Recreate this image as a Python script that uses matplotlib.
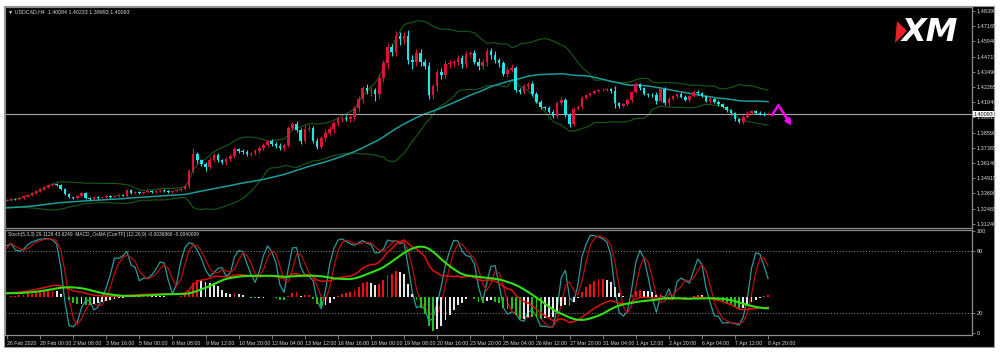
import numpy as np
import pandas as pd
import matplotlib
matplotlib.use("Agg")
import matplotlib.pyplot as plt
from matplotlib.patches import Rectangle, Polygon

# ---------------- data ----------------
# hidden history before the first visible bar (needed for indicator warm-up), in pips (1e-4)
pre_close = [13220, 13226, 13214, 13218, 13230, 13224, 13216, 13212, 13207, 13215,
             13222, 13228, 13234, 13230, 13225, 13219, 13227, 13236, 13241, 13233,
             13238, 13246, 13242, 13235, 13229, 13237, 13248, 13256, 13252, 13244,
             13250, 13261, 13269, 13265, 13274, 13281, 13276, 13270, 13278, 13287,
             13283, 13291, 13298, 13294, 13286, 13280, 13289, 13297, 13292, 13300]

first_open = 13310
close_pips = [13316, 13324, 13321, 13332, 13348, 13356, 13372, 13388, 13404, 13421,
              13437, 13445, 13437, 13404, 13364, 13340, 13332, 13348, 13372, 13332,
              13324, 13340, 13332, 13340, 13348, 13340, 13348, 13356, 13352, 13396,
              13372, 13380, 13372, 13380, 13388, 13380, 13388, 13396, 13388, 13380,
              13388, 13396, 13404, 13429, 13549, 13686, 13638, 13606, 13582, 13638,
              13678, 13638, 13622, 13646, 13670, 13727, 13711, 13703, 13686, 13694,
              13711, 13735, 13759, 13791, 13767, 13751, 13735, 13759, 13896, 13928,
              13880, 13791, 13888, 13896, 13791, 13743, 13815, 13856, 13888, 13936,
              13968, 13977, 13968, 13985, 14057, 14130, 14218, 14194, 14202, 14170,
              14299, 14420, 14549, 14509, 14637, 14613, 14637, 14444, 14428, 14500,
              14428, 14396, 14162, 14234, 14347, 14323, 14412, 14420, 14428, 14460,
              14412, 14492, 14500, 14428, 14396, 14428, 14517, 14484, 14444, 14420,
              14331, 14363, 14380, 14202, 14186, 14234, 14251, 14170, 14106, 14065,
              14057, 14025, 13993, 14097, 14122, 14001, 13928, 14049, 14065, 14138,
              14162, 14178, 14194, 14202, 14206, 14210, 14194, 14097, 14073, 14089,
              14122, 14186, 14251, 14218, 14170, 14162, 14158, 14114, 14210, 14097,
              14130, 14154, 14170, 14146, 14122, 14154, 14186, 14178, 14154, 14114,
              14130, 14106, 14089, 14065, 14041, 14017, 13968, 13944, 13985, 14017,
              14033, 14017, 14009, 14008.4, 14009.3]

wick_up = [5, 6, 4, 8, 6, 5, 7, 6, 5, 8,
           6, 9, 7, 5, 6, 8, 4, 6, 7, 5,
           6, 8, 5, 4, 6, 5, 7, 5, 6, 12,
           8, 5, 6, 4, 7, 5, 6, 8, 5, 6,
           4, 7, 6, 8, 20, 50, 15, 12, 18, 25,
           20, 15, 12, 18, 14, 16, 10, 12, 15, 12,
           14, 16, 18, 12, 20, 15, 25, 18, 20, 18,
           25, 20, 30, 22, 18, 25, 20, 30, 25, 20,
           15, 18, 22, 15, 20, 25, 18, 30, 25, 20,
           35, 28, 30, 25, 40, 35, 30, 45, 40, 35,
           30, 25, 30, 20, 25, 30, 35, 25, 20, 28,
           25, 22, 20, 25, 30, 28, 22, 25, 30, 20,
           20, 25, 30, 15, 18, 20, 15, 20, 18, 15,
           12, 15, 14, 18, 20, 15, 12, 15, 14, 12,
           10, 12, 10, 12, 10, 12, 10, 40, 12, 10,
           15, 12, 15, 10, 12, 10, 15, 30, 12, 15,
           12, 10, 12, 14, 12, 10, 20, 15, 12, 10,
           12, 10, 12, 10, 12, 10, 12, 10, 12, 15,
           12, 10, 20, 14, 14.0]

wick_dn = [6, 5, 7, 4, 6, 5, 4, 6, 5, 4,
           6, 5, 6, 8, 7, 5, 9, 6, 5, 7,
           8, 5, 6, 4, 5, 6, 4, 7, 5, 10,
           9, 6, 5, 7, 4, 6, 5, 4, 6, 5,
           7, 5, 4, 6, 15, 12, 20, 18, 30, 15,
           12, 18, 20, 25, 15, 12, 15, 18, 12, 14,
           12, 15, 18, 20, 12, 15, 20, 25, 15, 18,
           20, 25, 15, 20, 18, 20, 15, 25, 20, 30,
           25, 20, 18, 25, 30, 35, 30, 25, 40, 60,
           30, 35, 45, 30, 35, 50, 40, 30, 60, 35,
           30, 25, 30, 35, 40, 30, 25, 35, 30, 25,
           35, 30, 25, 20, 30, 25, 35, 30, 25, 30,
           15, 20, 18, 15, 12, 15, 20, 15, 12, 15,
           14, 12, 15, 18, 15, 20, 25, 12, 10, 15,
           10, 8, 10, 8, 10, 8, 15, 40, 12, 10,
           12, 15, 10, 12, 10, 15, 12, 25, 10, 12,
           20, 10, 15, 12, 10, 18, 10, 12, 10, 12,
           15, 10, 12, 10, 12, 14, 12, 10, 12, 10,
           12, 10, 10, 12, 9.1]

date_labels = ["26 Feb 2020", "28 Feb 00:00", "2 Mar 08:00", "3 Mar 16:00", "5 Mar 00:00",
               "6 Mar 08:00", "9 Mar 12:00", "10 Mar 20:00", "12 Mar 04:00", "13 Mar 12:00",
               "16 Mar 16:00", "18 Mar 00:00", "19 Mar 08:00", "20 Mar 16:00", "23 Mar 20:00",
               "25 Mar 04:00", "26 Mar 12:00", "27 Mar 20:00", "31 Mar 04:00", "1 Apr 12:00",
               "2 Apr 20:00", "6 Apr 04:00", "7 Apr 12:00", "8 Apr 20:00"]
date_label_bars = [0, 8, 16, 24, 32, 40, 48, 56, 64, 72, 80, 88, 96, 104, 112,
                   120, 128, 136, 144, 152, 160, 168, 176, 184]

price_tick_labels = ["1.48390", "1.47165", "1.45940", "1.44715", "1.43490", "1.42265",
                     "1.41040", "1.39815", "1.38590", "1.37365", "1.36140", "1.34915",
                     "1.33690", "1.32465", "1.31240"]
stoch_levels = [80, 20]
stoch_tick_values = [100, 80, 20, 0]

current_price = 1.40093
arrow_bars = [185, 186.5, 190.0]
arrow_prices = [1.4001, 1.4081, 1.3896]

title_main = "\u25bc USDCAD,H4  1.40084 1.40233 1.39993 1.40093"
title_sub = "Stoch(5,3,3) 29.1126 43.6249  MACD_OsMA [CurrTF] (12,26,9) -0.0036866 -0.0040009"

# ---------------- prepare ----------------
close = np.array(close_pips, dtype=float) / 1e4
opens = np.r_[first_open / 1e4, close[:-1]]
high = np.maximum(opens, close) + np.array(wick_up) / 1e4
low = np.minimum(opens, close) - np.array(wick_dn) / 1e4
n = len(close)
npre = len(pre_close)
xs = np.arange(n)

full_close = pd.Series(np.r_[np.array(pre_close) / 1e4, close])
full_high = pd.Series(np.r_[np.array(pre_close) / 1e4, high])
full_low = pd.Series(np.r_[np.array(pre_close) / 1e4, low])

ma50 = full_close.rolling(50).mean().values[npre:]
bb_mid = full_close.rolling(20).mean()
bb_sd = full_close.rolling(20).std(ddof=0)
bb_up = (bb_mid + 2 * bb_sd).values[npre:]
bb_lo = (bb_mid - 2 * bb_sd).values[npre:]

ll = full_low.rolling(5).min()
hh = full_high.rolling(5).max()
num = (full_close - ll).rolling(3).sum()
den = (hh - ll).rolling(3).sum()
stoch_k = (100 * num / den.replace(0, np.nan)).fillna(50)
stoch_d = stoch_k.rolling(3).mean()
stoch_k = stoch_k.values[npre:]
stoch_d = stoch_d.values[npre:]

ema12 = full_close.ewm(span=12, adjust=False).mean()
ema26 = full_close.ewm(span=26, adjust=False).mean()
macd = ema12 - ema26
signal = macd.rolling(9).mean()
osma = (macd - signal)
macd = macd.values[npre:]
signal = signal.values[npre:]
osma_prev = osma.shift(1).values[npre:]
osma = osma.values[npre:]

# ---------------- figure ----------------
W, H = 1000, 354
fig = plt.figure(figsize=(W / 100, H / 100), dpi=100)
fig.patch.set_facecolor("white")
FONT = ["Liberation Sans", "DejaVu Sans"]

def fx(px):
    return px / W

def fy(py):
    return 1 - py / H

fig.add_artist(Rectangle((fx(4), fy(347)), fx(990), (347 - 6) / H, transform=fig.transFigure,
                         facecolor="black", edgecolor="#9a9a9a", lw=0.8, zorder=0))

ax1 = fig.add_axes([fx(5), fy(228), fx(967), 221 / H])
ax2 = fig.add_axes([fx(5), fy(335), fx(967), 105 / H])

grey = "#8c8c8c"
txtc = "#d8d8d8"
for ax in (ax1, ax2):
    ax.set_facecolor("black")
    for s in ax.spines.values():
        s.set_color(grey)
        s.set_linewidth(0.9)
    ax.set_xlim(-0.48, 233.3)

# ---------- top panel ----------
p_top = 1.48390 + 4 * 0.01225 / 15.2
p_bot = 1.48390 - 217 * 0.01225 / 15.2
ax1.set_ylim(p_bot, p_top)

up_col = "#dc143c"
dn_col = "#1de6e6"
cols = np.where(close >= opens, up_col, dn_col)

ax1.plot(xs, bb_up, color="#165c16", lw=0.8, zorder=2)
ax1.plot(xs, bb_lo, color="#165c16", lw=0.8, zorder=2)
ax1.plot(xs, ma50, color="#1a9c9c", lw=1.1, zorder=2)
ax1.axhline(current_price, color="#a8a8a8", lw=0.8, zorder=2)

ax1.vlines(xs, low, high, colors=cols, lw=0.8, zorder=3)
body_h = close - opens
body_h = np.where(np.abs(body_h) < 0.00008, 0.00008, body_h)
ax1.bar(xs, body_h, bottom=opens, width=0.62, color=cols, lw=0, zorder=4)

# magenta projection arrow
ax1.plot(arrow_bars[:2], arrow_prices[:2], color="#ff00ff", lw=1.8, zorder=5, solid_capstyle="round")
ax1.annotate("", xy=(arrow_bars[2], arrow_prices[2]), xytext=(arrow_bars[1], arrow_prices[1]),
             arrowprops=dict(arrowstyle="-|>", color="#ff00ff", lw=1.8, mutation_scale=8), zorder=5)

price_tick_vals = [float(s) for s in price_tick_labels]
ax1.yaxis.tick_right()
ax1.set_yticks(price_tick_vals)
ax1.set_yticklabels(price_tick_labels, fontfamily=FONT)
ax1.tick_params(axis="y", colors=grey, labelcolor=txtc, labelsize=4.0, length=2, width=0.6, pad=1.2)
ax1.set_xticks([])

ax1.text(0.003, 0.99, title_main, transform=ax1.transAxes, color=txtc, fontsize=3.8,
         va="top", ha="left", family=FONT)
fig.text(973.5 / W, fy(114), f"{current_price:.5f}", fontsize=3.9, color="black",
         va="center", ha="left", family=FONT, zorder=8,
         bbox=dict(boxstyle="square,pad=0.1", facecolor="white", edgecolor="white", lw=0))

# XM logo
fig.add_artist(Polygon([(fx(897), fy(21)), (fx(907), fy(31)), (fx(895), fy(43))],
                       closed=True, transform=fig.transFigure, facecolor="#e8202a",
                       edgecolor="none", zorder=6))
fig.text(fx(902), fy(32.5), "XM", fontsize=23, fontweight="bold", fontstyle="italic",
         color="white", va="center", ha="left", zorder=6)

# ---------- bottom panel ----------
ax2.set_ylim(-1.96, 100.98)
for lv in stoch_levels:
    ax2.axhline(lv, color="#7a7a7a", lw=0.7, ls=(0, (1.2, 1.8)), zorder=1)
ax2.plot(xs, stoch_k, color="#2a9a9a", lw=0.9, zorder=3)
ax2.plot(xs, stoch_d, color="#b81010", lw=0.9, zorder=3)

# histogram (OsMA) on its own scale, zero at panel pixel 297
ax4 = ax2.twinx()
ax4.set_xlim(ax2.get_xlim())
uh = np.nanmax(np.abs(osma)) / 34.0
ax4.set_ylim(-38 * uh, 67 * uh)
ax4.axis("off")
hcols = []
for v, pv in zip(osma, osma_prev):
    if v >= 0 and v >= pv:
        hcols.append("#f01010")
    elif v < 0 and v < pv:
        hcols.append("#22c022")
    else:
        hcols.append("#e6e6e6")
ax4.bar(xs, osma, width=0.45, color=hcols, lw=0, zorder=2)

# MACD lines on their own scale, zero at same pixel
ax3 = ax2.twinx()
ax3.set_xlim(ax2.get_xlim())
um = np.nanmax(np.abs(macd)) / 57.0
ax3.set_ylim(-38 * um, 67 * um)
ax3.axis("off")
ax3.plot(xs, macd, color="#e01010", lw=1.1, zorder=4)
ax3.plot(xs, signal, color="#30e010", lw=1.5, zorder=4)

# axis ticks of the lower panel (after twinx, which moves ticks to the left)
ax2.yaxis.tick_right()
ax2.set_yticks(stoch_tick_values)
ax2.set_yticklabels([str(v) for v in stoch_tick_values], fontfamily=FONT)
ax2.tick_params(axis="y", colors=grey, labelcolor=txtc, labelsize=4.0, length=2, width=0.6,
                pad=1.2, left=False, labelleft=False, right=True, labelright=True)
ax2.set_xticks(date_label_bars)
ax2.set_xticklabels(date_labels, fontfamily=FONT)
ax2.tick_params(axis="x", colors=grey, labelcolor=txtc, labelsize=3.8, length=3, width=0.6, pad=1)
for lab in ax2.get_xticklabels():
    lab.set_ha("left")

ax3.text(0.003, 0.985, title_sub, transform=ax2.transAxes, color=txtc, fontsize=3.5,
         va="top", ha="left", family=FONT, zorder=10)

fig.savefig("out.png", dpi=100, facecolor="white")
